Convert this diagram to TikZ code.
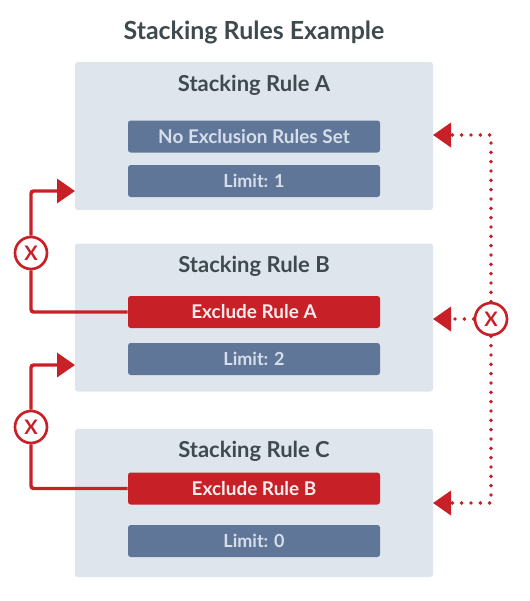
\documentclass[tikz,border=0pt]{standalone}
\usepackage{fontspec}
\setmainfont{Lato}
\usetikzlibrary{arrows.meta}
\definecolor{panelgray}{HTML}{DFE5ED}
\definecolor{pillblue}{HTML}{5F7699}
\definecolor{pilltext}{HTML}{D5DEE9}
\definecolor{rulered}{HTML}{C82027}
\definecolor{titlegray}{HTML}{3F4A4E}
\tikzset{
    panel/.style={fill=panelgray,rounded corners=2pt,minimum width=268.5pt,minimum height=111pt,inner sep=0pt},
    pill/.style={fill=pillblue,text=pilltext,rounded corners=2pt,minimum width=189pt,minimum height=24pt,inner sep=0pt,font=\fontsize{14.2}{16}\selectfont\bfseries},
    pilllimit/.style={pill,font=\fontsize{13.5}{15}\selectfont\bfseries},
    pillred/.style={pill,fill=rulered,text=white!92!rulered},
    heading/.style={text=titlegray,inner sep=0pt,font=\fontsize{16.5}{18}\selectfont\bfseries},
    xmark/.style={circle,draw=rulered,line width=2pt,minimum size=24pt,inner sep=0pt,text=rulered,font=\fontsize{15}{16}\selectfont\bfseries},
    excl/.style={draw=rulered,line width=2.6pt,rounded corners=2pt},
    exclhead/.style={excl,-{Triangle[length=13.5pt,width=18pt,fill=rulered]}},
    dots/.style={draw=rulered,line width=2.9pt,line cap=round,dash pattern=on 0pt off 7pt,-{Triangle[length=13.5pt,width=18pt,fill=rulered]}}
}
\begin{document}
\begin{tikzpicture}[x=0.75pt,y=-0.75pt]
        \useasboundingbox (0,0) rectangle (530,601);
        \node[heading,font=\fontsize{18.7}{20}\selectfont\bfseries] (title) at (254,32) {Stacking Rules Example};
        % --- riquadri ---
        \node[panel] (panelA) at (254,136) {};
        \node[panel] (panelB) at (254,317.5) {};
        \node[panel] (panelC) at (254,503) {};
        \node[heading] (headA) at (254,85) {Stacking Rule A};
        \node[heading] (headB) at (254,266) {Stacking Rule B};
        \node[heading] (headC) at (254,451) {Stacking Rule C};
        % --- regole ---
        \node[pill] (setA) at (254,136.5) {No Exclusion Rules Set};
        \node[pilllimit] (limitA) at (254,181) {Limit: 1};
        \node[pillred] (setB) at (254,312) {Exclude Rule A};
        \node[pilllimit] (limitB) at (254,359) {Limit: 2};
        \node[pillred] (setC) at (254,488.5) {Exclude Rule B};
        \node[pilllimit] (limitC) at (254,541) {Limit: 0};
        % --- linee a sinistra ---
        \node[xmark] (xA) at (31,253) {X};
        \node[xmark] (xB) at (31,427) {X};
        \coordinate (inA) at (75,191);
        \coordinate (inB) at (75,365);
        \draw[excl] (setB.west) -| (xA);
        \draw[exclhead] (xA) |- (inA);
        \draw[excl] (setC.west) -| (xB);
        \draw[exclhead] (xB) |- (inB);
        % --- linee a destra ---
        \node[xmark] (xR) at (491,319) {X};
        \coordinate (outA) at (433,135);
        \coordinate (outB) at (433,319);
        \coordinate (outC) at (433,503);
        \draw[dots] (xR) |- (outA);
        \draw[dots] (xR) -- (outB);
        \draw[dots] (xR) |- (outC);
    \end{tikzpicture}
\end{document}
